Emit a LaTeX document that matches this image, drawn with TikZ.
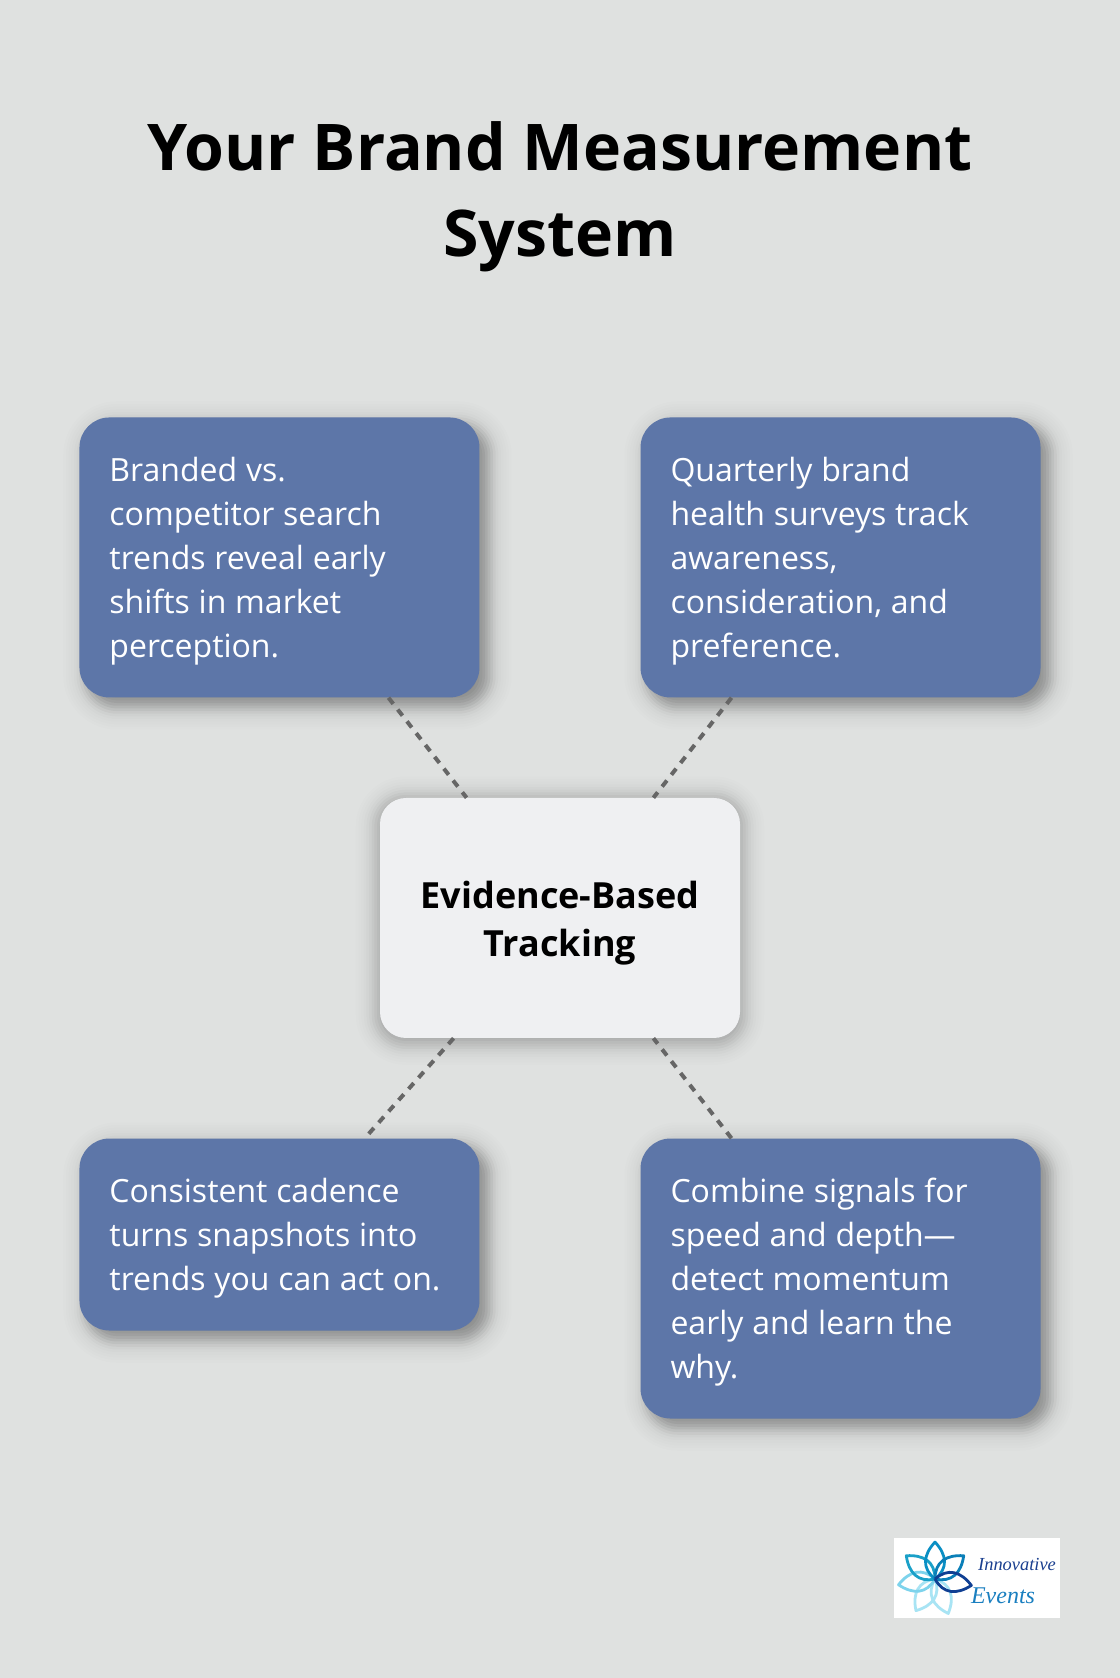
\documentclass[tikz,border=0pt]{standalone}
\usepackage{fontspec}
\setmainfont{Open Sans}
\newfontfamily\logofont{Liberation Serif}
\usetikzlibrary{positioning,calc,backgrounds}

\definecolor{pagegrey}{HTML}{DFE1E0}
\definecolor{cardblue}{HTML}{5D76A8}
\definecolor{hubgrey}{HTML}{EFF0F2}
\definecolor{linkgrey}{HTML}{666666}
\definecolor{logoink}{HTML}{1A3F8F}
\definecolor{logosky}{HTML}{1A7FC0}

\begin{document}
\begin{tikzpicture} [x=1pt, y=1pt, node distance=3cm,
	card/.style={rectangle, rounded corners=22.5pt, fill=cardblue, text=white, text width=255pt, align=left, inner xsep=22.5pt, inner ysep=0pt, font=\fontsize{24}{33}\selectfont, execute at begin node={\spaceskip=6.6pt\rule{0pt}{24pt}}},
	hub/.style={rectangle, rounded corners=19.5pt, fill=hubgrey, text=black, text width=225pt, inner xsep=22.5pt, align=center, minimum width=270pt, minimum height=180pt, font=\fontsize{27}{36}\selectfont\bfseries, execute at begin node={\rule{0pt}{28.5pt}}},
	link/.style={draw=linkgrey, line width=3pt, dash pattern=on 5.8pt off 5.45pt},
	heading/.style={align=center, font=\fontsize{48.3}{64}\selectfont\bfseries},
	petal/.style={line width=2.1pt, line join=round}]

	\useasboundingbox (0,0) rectangle (840,1258.5);

	\coordinate (hubpoint) at (420,570);

	\node [hub, at=(hubpoint)] (center) {Evidence-Based\\Tracking};
	\node [card, above left=75pt and -75pt of center, minimum height=210pt] (search) {Branded vs.\\competitor search\\trends reveal early\\shifts in market\\perception.};
	\node [card, above right=75pt and -75pt of center, minimum height=210pt] (survey) {Quarterly brand\\health surveys track\\awareness,\\consideration, and\\preference.};
	\node [card, below left=75pt and -75pt of center, minimum height=144pt] (cadence) {Consistent cadence\\turns snapshots into\\trends you can act on.};
	\node [card, below right=75pt and -75pt of center, minimum height=210pt] (signals) {Combine signals for\\speed and depth---\\detect momentum\\early and learn the\\why.};

	% page and soft shadows
	\begin{pgfonlayer}{background}
		\fill [pagegrey] (0,0) rectangle (840,1258.5);
		\foreach \boxname/\dx/\dy/\corner/\shadeamount/\spreadby in {search/6/-6/22.5/0.055/8, survey/6/-6/22.5/0.055/8, cadence/6/-6/22.5/0.055/8, signals/6/-6/22.5/0.055/8, center/0/-2/19.5/0.035/11} {
			\foreach \grow in {-18,-16,...,18} {
				\pgfmathsetmacro{\cornerr}{max(1,\corner+\grow)}
				\pgfmathsetmacro{\layer}{max(0.008,\shadeamount*exp(-(\grow/\spreadby)^2))}
				\fill [black, fill opacity=\layer, rounded corners=\cornerr pt] ($(\boxname.south west)+(\dx-\grow,\dy-\grow)$) rectangle ($(\boxname.north east)+(\dx+\grow,\dy+\grow)$);
			}
		}
	\end{pgfonlayer}

	% draw edges
	\draw [link] (search) -- (center);
	\draw [link] (survey) -- (center);
	\draw [link] (center) -- (cadence);
	\draw [link] (signals) -- (center);

	% title
	\node [above of=center, node distance=541pt, heading] (title) {Your Brand Measurement\\System};

	% logo
	\node [fill=white, minimum width=124.5pt, minimum height=60pt, inner sep=0pt] (logo) at (732.75,75) {};
	\coordinate (bloom) at (701.25,74.25);
	\foreach \turn/\tint in {201/A8E4F4, 149/A8E4F4, 99/7DD3EC, 51/1AA0C8, 0/0A8FC4, -51/0A7FB8, -100/0F3F93} {
		\definecolor{tint}{HTML}{\tint}
		\draw [petal, draw=tint, shift={(bloom)}, rotate=\turn] (0,0) .. controls (10,8) and (9,18) .. (0,27.7) .. controls (-9,18) and (-10,8) .. (0,0);
	}
	\node [text=logoink, font=\logofont\itshape\fontsize{13.8}{14}\selectfont] (logotop) at (762.75,85) {Innovative};
	\node [text=logosky, font=\logofont\itshape\fontsize{18}{18}\selectfont] (logobottom) at (752.25,62) {Events};
\end{tikzpicture}
\end{document}
